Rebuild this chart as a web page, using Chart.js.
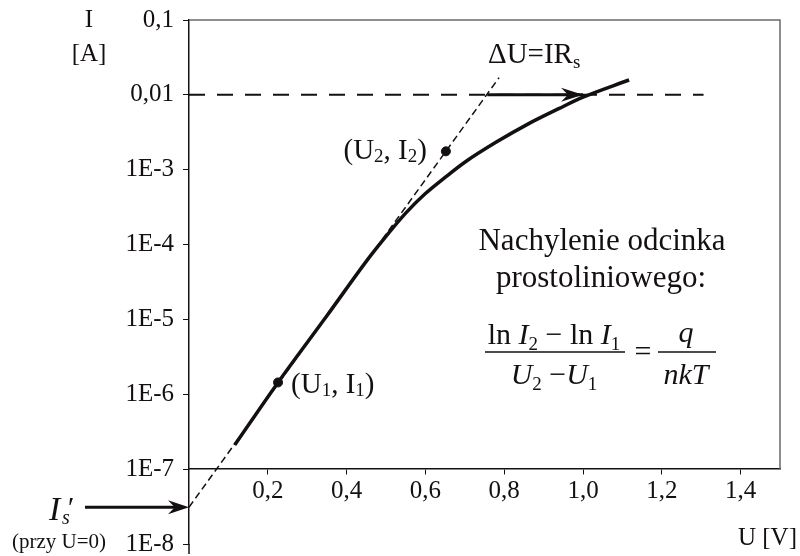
<!DOCTYPE html>
<html>
<head>
<meta charset="utf-8">
<script src="https://cdn.jsdelivr.net/npm/chart.js@4"></script>
<style>
  html, body { margin: 0; padding: 0; background: #fff; }
</style>
</head>
<body>
<canvas id="chart" width="800" height="556"></canvas>
<script>
// diode I-U characteristic
const curveU = [0.116, 0.226, 0.35, 0.458, 0.50, 0.55, 0.60, 0.65, 0.70, 0.78, 0.86, 0.94, 1.00, 1.117];
const curveI = [2.1e-7, 1.44e-6, 1.12e-5, 6.8e-5, 1.29e-4, 2.63e-4, 4.8e-4, 7.9e-4, 1.26e-3, 2.34e-3, 4.07e-3, 6.6e-3, 9.3e-3, 1.58e-2];

// straight-line extrapolation of the exponential part
const tangentU = [0, 0.787];
const tangentI = [3.1e-8, 1.7e-2];

// horizontal reference level I = 0,01 A
const levelU = [0, 1.306];
const levelI = [0.01, 0.01];

// the ΔU = IRs arrow
const arrowU = [0.757, 1.0];
const arrowI = [0.01, 0.01];

// marked points (U1, I1) and (U2, I2)
const pointU = [0.226, 0.652];
const pointI = [1.44e-6, 1.76e-3];

const yTicks = [1e-8, 1e-7, 1e-6, 1e-5, 1e-4, 1e-3, 1e-2, 1e-1];
const yTickLabels = ['1E-8', '1E-7', '1E-6', '1E-5', '1E-4', '1E-3', '0,01', '0,1'];
const xTicks = [0.2, 0.4, 0.6, 0.8, 1.0, 1.2, 1.4];
const xTickLabels = ['0,2', '0,4', '0,6', '0,8', '1,0', '1,2', '1,4'];

const SERIF = '"Liberation Serif", "Times New Roman", serif';
const INK = '#141010';

const toXY = (us, is) => us.map((u, i) => ({ x: u, y: is[i] }));

function runFont(r) {
    return (r.it ? 'italic ' : '') + r.s + 'px ' + SERIF;
}

// draws a row of text pieces with different sizes / styles
function drawRuns(ctx, runs, x, y, align) {
    let w = 0;
    runs.forEach(r => {
        ctx.font = runFont(r);
        r.w = ctx.measureText(r.t).width;
        w += r.w;
    });
    let cx = align === 'center' ? x - w / 2 : align === 'right' ? x - w : x;
    ctx.textAlign = 'left';
    ctx.textBaseline = 'alphabetic';
    runs.forEach(r => {
        ctx.font = runFont(r);
        ctx.fillText(r.t, cx, y + (r.dy || 0));
        cx += r.w;
    });
    return w;
}

function arrowHead(ctx, tipX, tipY, len, half) {
    ctx.beginPath();
    ctx.moveTo(tipX, tipY);
    ctx.lineTo(tipX - len, tipY - half);
    ctx.lineTo(tipX - len * 0.68, tipY);
    ctx.lineTo(tipX - len, tipY + half);
    ctx.closePath();
    ctx.fill();
}

const annotations = {
    id: 'annotations',
    afterDraw(chart) {
        const ctx = chart.ctx;
        const xs = chart.scales.x;
        const ys = chart.scales.y;
        const area = chart.chartArea;
        ctx.save();

        // frame: top edge and right edge down to the x axis
        const axisY = ys.getPixelForValue(1e-7);
        ctx.strokeStyle = '#6a6a6a';
        ctx.lineWidth = 1.5;
        ctx.beginPath();
        ctx.moveTo(area.left, area.top);
        ctx.lineTo(area.right, area.top);
        ctx.lineTo(area.right, axisY);
        ctx.stroke();

        // y axis runs a little below 1E-8
        ctx.strokeStyle = INK;
        ctx.lineWidth = 1.5;
        ctx.beginPath();
        ctx.moveTo(area.left, area.bottom);
        ctx.lineTo(area.left, area.bottom + 10);
        ctx.stroke();

        ctx.fillStyle = INK;

        // ΔU arrow head
        arrowHead(ctx, xs.getPixelForValue(arrowU[1]), ys.getPixelForValue(arrowI[1]), 22, 7);

        // I's arrow to the intercept
        const isY = ys.getPixelForValue(tangentI[0]);
        const isX = xs.getPixelForValue(tangentU[0]);
        ctx.strokeStyle = INK;
        ctx.lineWidth = 3;
        ctx.beginPath();
        ctx.moveTo(85, isY);
        ctx.lineTo(isX - 12, isY);
        ctx.stroke();
        arrowHead(ctx, isX, isY, 21, 7);

        // axis titles
        drawRuns(ctx, [{ t: 'I', s: 25 }], 89, 27, 'center');
        drawRuns(ctx, [{ t: '[A]', s: 25 }], 89, 61, 'center');
        drawRuns(ctx, [{ t: 'U [V]', s: 25 }], 797, 545, 'right');

        // I's (przy U=0)
        drawRuns(ctx, [{ t: 'I', s: 34, it: true }], 49, 520, 'left');
        drawRuns(ctx, [{ t: '\u2032', s: 30, it: true }], 66, 517, 'left');
        drawRuns(ctx, [{ t: 's', s: 20, it: true }], 62, 524, 'left');
        drawRuns(ctx, [{ t: '(przy U=0)', s: 21 }], 12, 548, 'left');

        // ΔU = IRs
        drawRuns(ctx, [{ t: '\u0394U=IR', s: 29 }, { t: 's', s: 19, dy: 5 }], 488, 63, 'left');

        // point labels
        const p1x = xs.getPixelForValue(pointU[0]), p1y = ys.getPixelForValue(pointI[0]);
        const p2x = xs.getPixelForValue(pointU[1]), p2y = ys.getPixelForValue(pointI[1]);
        drawRuns(ctx, [
            { t: '(U', s: 29 }, { t: '1', s: 19, dy: 3 }, { t: ', I', s: 29 },
            { t: '1', s: 19, dy: 3 }, { t: ')', s: 29 }
        ], p1x + 13, p1y + 11, 'left');
        drawRuns(ctx, [
            { t: '(U', s: 29 }, { t: '2', s: 19, dy: 3 }, { t: ', I', s: 29 },
            { t: '2', s: 19, dy: 3 }, { t: ')', s: 29 }
        ], p2x - 19, p2y + 8, 'right');

        // slope note
        drawRuns(ctx, [{ t: 'Nachylenie odcinka', s: 31 }], 602, 250, 'center');
        drawRuns(ctx, [{ t: 'prostoliniowego:', s: 31 }], 601, 287, 'center');

        // fraction  (ln I2 - ln I1)/(U2 - U1) = q/(nkT)
        const barY = 352;
        drawRuns(ctx, [
            { t: 'ln ', s: 30 }, { t: 'I', s: 30, it: true }, { t: '2', s: 19, dy: 6 },
            { t: ' \u2212 ln ', s: 30 }, { t: 'I', s: 30, it: true }, { t: '1', s: 19, dy: 6 }
        ], 554, 344, 'center');
        drawRuns(ctx, [
            { t: 'U', s: 30, it: true }, { t: '2', s: 19, dy: 6 },
            { t: ' \u2212', s: 30 }, { t: 'U', s: 30, it: true }, { t: '1', s: 19, dy: 6 }
        ], 554, 384, 'center');
        drawRuns(ctx, [{ t: '=', s: 30 }], 643, 361, 'center');
        drawRuns(ctx, [{ t: 'q', s: 30, it: true }], 686, 342, 'center');
        drawRuns(ctx, [{ t: 'nkT', s: 30, it: true }], 686, 384, 'center');
        ctx.strokeStyle = INK;
        ctx.lineWidth = 1.5;
        ctx.beginPath();
        ctx.moveTo(485, barY); ctx.lineTo(625, barY);
        ctx.moveTo(658, barY); ctx.lineTo(716, barY);
        ctx.stroke();

        ctx.restore();
    }
};

new Chart(document.getElementById('chart'), {
    type: 'line',
    data: {
        datasets: [
            {
                label: 'punkty',
                data: toXY(pointU, pointI),
                showLine: false,
                pointRadius: 4.5,
                pointBackgroundColor: INK,
                pointBorderColor: INK,
                order: 0
            },
            {
                label: 'I(U)',
                data: toXY(curveU, curveI),
                borderColor: INK,
                borderWidth: 3.5,
                pointRadius: 0,
                cubicInterpolationMode: 'monotone',
                order: 1
            },
            {
                label: 'dU',
                data: toXY(arrowU, arrowI),
                borderColor: INK,
                borderWidth: 3,
                pointRadius: 0,
                order: 2
            },
            {
                label: 'styczna',
                data: toXY(tangentU, tangentI),
                borderColor: INK,
                borderWidth: 1.5,
                borderDash: [7, 4],
                pointRadius: 0,
                order: 3
            },
            {
                label: '0,01',
                data: toXY(levelU, levelI),
                borderColor: INK,
                borderWidth: 2,
                borderDash: [16, 12],
                pointRadius: 0,
                order: 4
            }
        ]
    },
    options: {
        responsive: false,
        animation: false,
        layout: { padding: { left: 0, right: 20, top: 20, bottom: 12 } },
        plugins: {
            legend: { display: false },
            tooltip: { enabled: false }
        },
        scales: {
            x: {
                type: 'linear',
                min: 0,
                max: 1.5,
                position: { y: 1e-7 },
                afterBuildTicks: s => { s.ticks = xTicks.map(v => ({ value: v })); },
                afterFit: s => { s.paddingLeft = 0; s.paddingRight = 0; s.paddingTop = 0; s.paddingBottom = 0; },
                grid: { drawOnChartArea: false, drawTicks: true, tickLength: 5, color: INK },
                border: { display: true, color: INK, width: 1.5 },
                ticks: {
                    autoSkip: false,
                    maxRotation: 0,
                    padding: 2,
                    color: INK,
                    font: { family: SERIF, size: 25 },
                    callback: v => {
                        const i = xTicks.findIndex(t => Math.abs(t - v) < 1e-6);
                        return i >= 0 ? xTickLabels[i] : '';
                    }
                }
            },
            y: {
                type: 'logarithmic',
                min: 1e-8,
                max: 0.1,
                position: 'left',
                afterFit: s => { s.width = 189; s.paddingTop = 0; s.paddingBottom = 0; },
                afterBuildTicks: s => { s.ticks = yTicks.map(v => ({ value: v })); },
                grid: { drawOnChartArea: false, drawTicks: true, tickLength: 6, color: INK },
                border: { display: true, color: INK, width: 1.5 },
                ticks: {
                    autoSkip: false,
                    padding: 9,
                    color: INK,
                    font: { family: SERIF, size: 25 },
                    callback: v => {
                        const i = yTicks.findIndex(t => Math.abs(Math.log10(t) - Math.log10(v)) < 1e-6);
                        return i >= 0 ? yTickLabels[i] : '';
                    }
                }
            }
        }
    },
    plugins: [annotations]
});
</script>
</body>
</html>
